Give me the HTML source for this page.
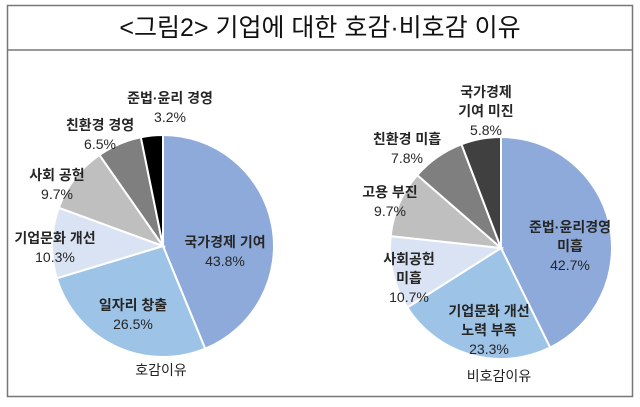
<!DOCTYPE html>
<html><head><meta charset="utf-8"><style>
body{margin:0;background:#fff;width:640px;height:402px;overflow:hidden}
svg text{font-family:"Liberation Sans","Noto Sans CJK KR",sans-serif}
</style></head><body>
<svg width="640" height="402" xmlns="http://www.w3.org/2000/svg">
<rect x="7.5" y="5.5" width="625" height="391" fill="#fff" stroke="#777" stroke-width="1.5"/>
<line x1="7" y1="50" x2="633" y2="50" stroke="#777" stroke-width="1.5"/>
<text x="320" y="36" text-anchor="middle" font-size="25" fill="#111">&lt;그림2&gt; 기업에 대한 호감·비호감 이유</text>
<g id="pies"></g>
</svg>
<script>
const leftCategories=["국가경제 기여","일자리 창출","기업문화 개선","사회 공헌","친환경 경영","준법·윤리 경영"];
const leftValues=[43.8,26.5,10.3,9.7,6.5,3.2];
const rightCategories=["준법·윤리경영 미흡","기업문화 개선 노력 부족","사회공헌 미흡","고용 부진","친환경 미흡","국가경제 기여 미진"];
const rightValues=[42.7,23.3,10.7,9.7,7.8,5.8];
const leftColors=["#8eaadb","#9dc3e6","#dae3f3","#bfbfbf","#7f7f7f","#000000"];
const rightColors=["#8eaadb","#9dc3e6","#dae3f3","#bfbfbf","#7f7f7f","#404040"];
const leftLabels=[[["국가경제 기여"],225,247],[["일자리 창출"],133,310],[["기업문화 개선"],55,243],[["사회 공헌"],57,180],[["친환경 경영"],100,130],[["준법·윤리 경영"],170,103]];
const rightLabels=[[["준법·윤리경영","미흡"],570,232],[["기업문화 개선","노력 부족"],489,316],[["사회공헌","미흡"],409,264],[["고용 부진"],390,197],[["친환경 미흡"],407,144],[["국가경제","기여 미진"],486,97]];
const ns="http://www.w3.org/2000/svg";
const g=document.getElementById('pies');
function mk(t,a){const e=document.createElementNS(ns,t);for(const k in a)e.setAttribute(k,a[k]);return e;}
function pie(cx,cy,r,vals,cols,cats,labels,title,key,ty){
  const tot=vals.reduce((a,b)=>a+b,0);let a0=-Math.PI/2;
  vals.forEach((v,i)=>{
    const a1=a0+v/tot*2*Math.PI;
    const x0=cx+r*Math.cos(a0),y0=cy+r*Math.sin(a0),x1=cx+r*Math.cos(a1),y1=cy+r*Math.sin(a1);
    const p=mk('path',{d:`M${cx},${cy}L${x0},${y0}A${r},${r} 0 ${a1-a0>Math.PI?1:0} 1 ${x1},${y1}Z`,fill:cols[i],stroke:'#fff','stroke-width':2});
    
    
    g.appendChild(p);a0=a1;
    const L=labels[i];const lines=L[0].concat([vals[i].toFixed(1)+'%']);
    lines.forEach((s,j)=>{
      const t=mk('text',{x:L[1],y:L[2]+j*19,'text-anchor':'middle','font-size':14,fill:'#262626','font-weight':j<lines.length-1?'bold':'normal'});
      t.textContent=s;
      
      
      g.appendChild(t);
    });
  });
  const tt=mk('text',{x:cx-2,y:ty,'text-anchor':'middle','font-size':14,fill:'#222'});tt.textContent=title;
  
  
  g.appendChild(tt);
}
pie(163,246,111,leftValues,leftColors,leftCategories,leftLabels,"호감이유","left",375);
pie(501,248,111,rightValues,rightColors,rightCategories,rightLabels,"비호감이유","right",381);
</script>
</body></html>
